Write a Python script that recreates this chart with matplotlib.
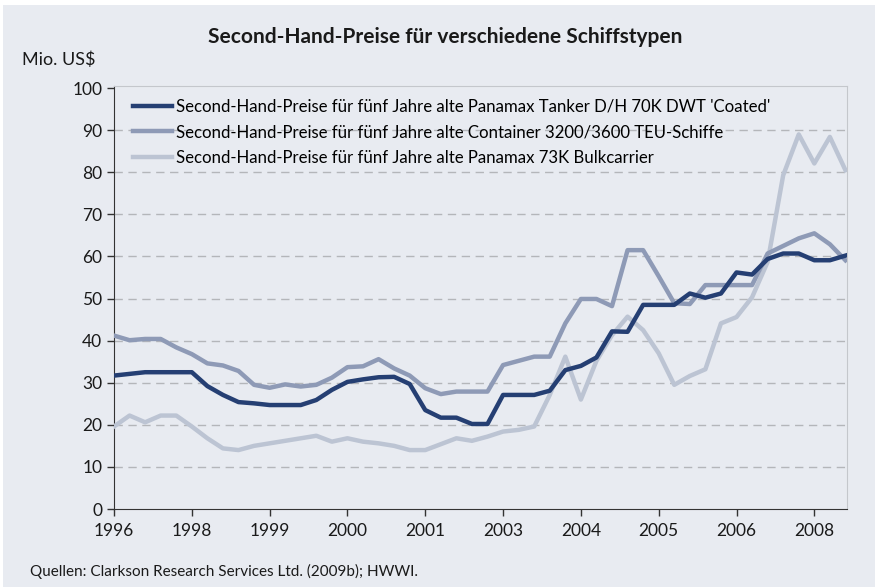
import matplotlib.pyplot as plt
import matplotlib.patches as patches
import numpy as np

plt.rcParams['font.family'] = ['Lato', 'DejaVu Sans']

# quarterly points, labels every 5th point as in the original chart
tick_labels = ['1996', '1998', '1999', '2000', '2001', '2003', '2004', '2005', '2006', '2008']

tanker = [31.7, 32.1, 32.5, 32.5, 32.5, 32.5, 29.2, 27.1, 25.4, 25.1,
          24.7, 24.7, 24.7, 25.9, 28.3, 30.2, 30.8, 31.3, 31.4, 29.7,
          23.5, 21.7, 21.7, 20.2, 20.2, 27.1, 27.1, 27.1, 28.1, 33.0,
          34.0, 36.0, 42.2, 42.1, 48.5, 48.5, 48.5, 51.2, 50.2, 51.2,
          56.2, 55.7, 59.4, 60.7, 60.7, 59.1, 59.1, 60.2]

container = [41.2, 40.1, 40.4, 40.4, 38.4, 36.8, 34.6, 34.1, 32.8, 29.5,
             28.8, 29.6, 29.1, 29.5, 31.2, 33.7, 33.9, 35.6, 33.4, 31.7,
             28.7, 27.3, 27.9, 27.9, 27.9, 34.2, 35.2, 36.2, 36.2, 44.1,
             49.9, 49.9, 48.2, 61.5, 61.5, 55.3, 48.9, 48.7, 53.2, 53.2,
             53.2, 53.2, 60.7, 62.5, 64.3, 65.5, 62.9, 59.1]

bulk = [19.6, 22.2, 20.6, 22.2, 22.2, 19.6, 16.8, 14.4, 14.0, 15.0,
        15.6, 16.2, 16.8, 17.4, 16.0, 16.8, 16.0, 15.6, 15.0, 14.0,
        14.0, 15.4, 16.8, 16.2, 17.2, 18.4, 18.8, 19.6, 27.1, 36.2,
        26.0, 35.2, 41.3, 45.7, 42.5, 37.0, 29.5, 31.6, 33.2, 44.1,
        45.6, 50.3, 58.7, 79.3, 89.0, 82.1, 88.4, 80.5]

labels = ["Second-Hand-Preise für fünf Jahre alte Panamax Tanker D/H 70K DWT 'Coated'",
          "Second-Hand-Preise für fünf Jahre alte Container 3200/3600 TEU-Schiffe",
          "Second-Hand-Preise für fünf Jahre alte Panamax 73K Bulkcarrier"]

bg = '#e8ebf1'
fig = plt.figure(figsize=(8.78, 5.87), dpi=100)
fig.patch.set_facecolor('white')
fig.patches.append(patches.Rectangle((3 / 878, 0), 872 / 878, 582 / 587, transform=fig.transFigure,
                                     facecolor=bg, edgecolor='none', zorder=-10))

ax = fig.add_axes([114 / 878, 78 / 587, 733 / 878, 423 / 587])
ax.set_facecolor(bg)

x = np.arange(len(tanker))
ax.plot(x, tanker, color='#253f73', lw=3.2, label=labels[0], zorder=5)
ax.plot(x, container, color='#8e9ab6', lw=3.2, label=labels[1], zorder=4)
ax.plot(x, bulk, color='#bcc4d3', lw=3.2, label=labels[2], zorder=3)

ax.set_xlim(0, 47.1)
ax.set_ylim(0, 100.5)
ax.set_yticks(np.arange(0, 101, 10))
ax.set_xticks(np.arange(0, 46, 5))
ax.set_xticklabels(tick_labels)
ax.tick_params(labelsize=12.5, length=5, width=1, color='#333333', labelcolor='#1a1a1a')
ax.tick_params(axis='x', pad=5)

for yv in range(10, 100, 10):
    ax.axhline(yv, color='#b4b6ba', lw=1, ls=(0, (6, 4)), zorder=1)

# axis lines: dark left/bottom, light right/top
ax.spines['left'].set_color('#333333')
ax.spines['bottom'].set_color('#333333')
ax.spines['right'].set_color('#c4c7cc')
ax.spines['top'].set_color('#c4c7cc')

ax.legend(loc='upper left', bbox_to_anchor=(0.01, 0.998), frameon=False, fontsize=12.1,
          handlelength=2.3, handletextpad=0.25, labelspacing=0.58, borderaxespad=0.3)

fig.text(0.507, 1 - 37 / 587, 'Second-Hand-Preise für verschiedene Schiffstypen', ha='center', va='center',
         fontsize=15, fontweight='bold', color='#1a1a1a')
fig.text(22 / 878, 1 - 60 / 587, 'Mio. US$', ha='left', va='center', fontsize=13, color='#1a1a1a')
fig.text(30 / 878, 1 - 571 / 587, 'Quellen: Clarkson Research Services Ltd. (2009b); HWWI.',
         ha='left', va='center', fontsize=11, color='#1a1a1a')

fig.savefig('out.png', dpi=100, facecolor=fig.get_facecolor())
